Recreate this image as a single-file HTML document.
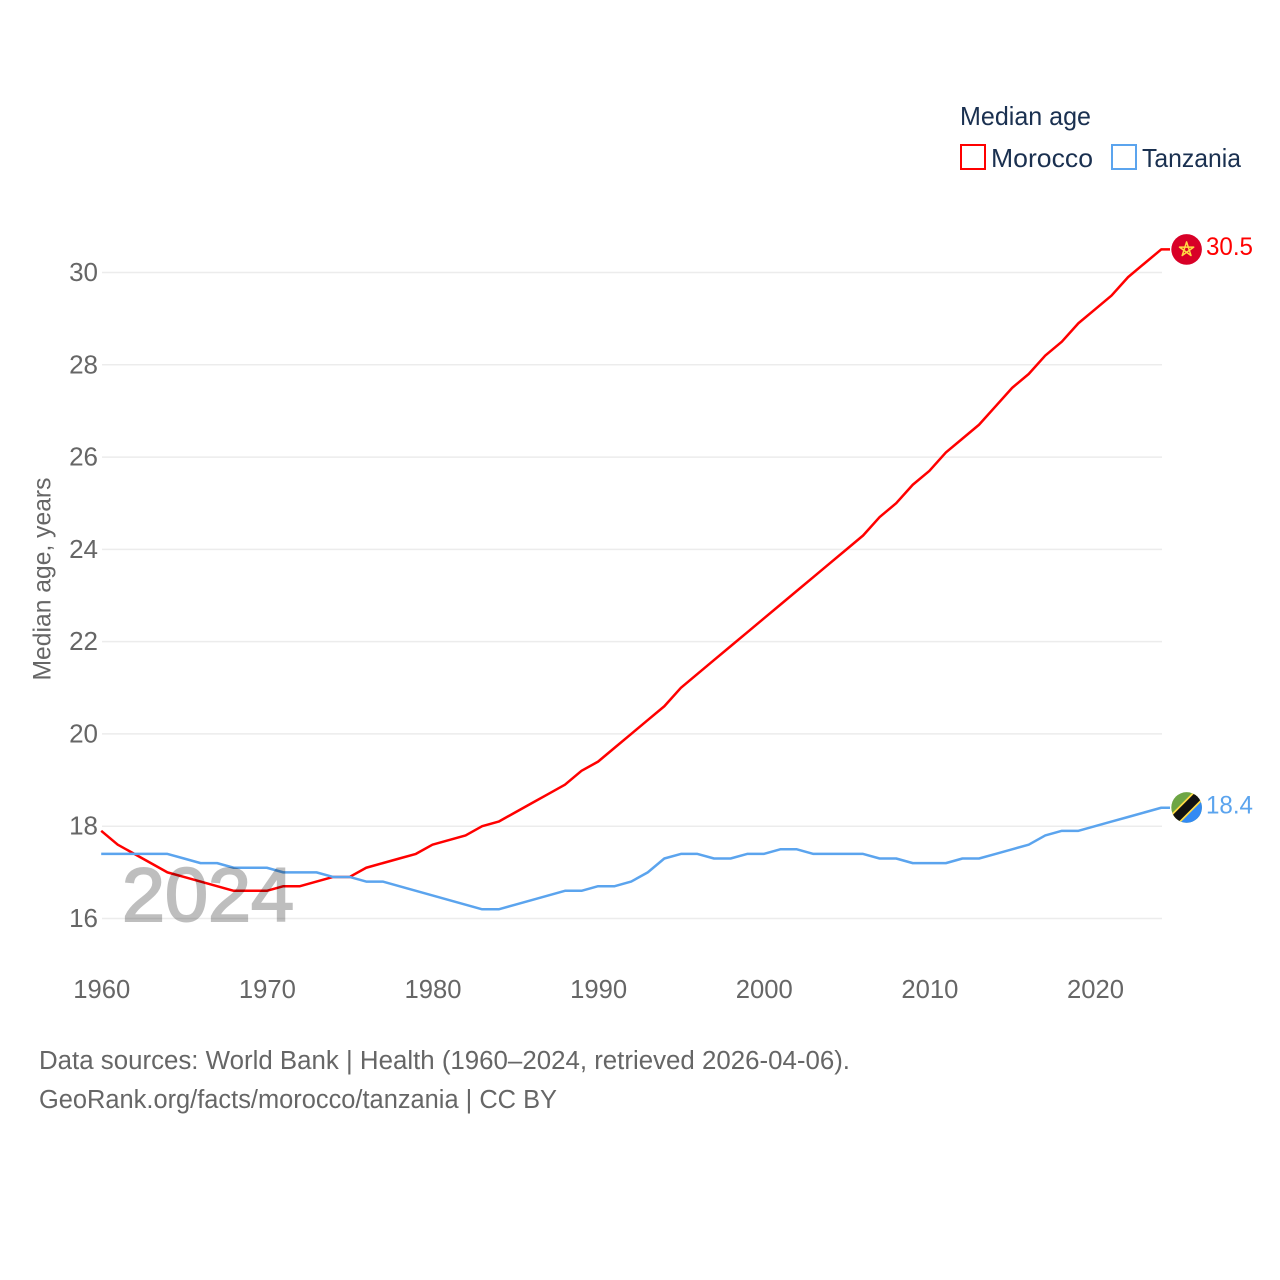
<!DOCTYPE html>
<html lang="en">
<head>
<meta charset="utf-8">
<title>Median age: Morocco and Tanzania</title>
<style>
html,body{margin:0;padding:0;background:#fff;width:1280px;height:1280px;overflow:hidden}
svg{display:block}
text{font-family:"Liberation Sans",Arial,sans-serif}
</style>
</head>
<body>
<svg id="chart" xmlns="http://www.w3.org/2000/svg" width="1280" height="1280" viewBox="0 0 1280 1280">
  <defs>
    <clipPath id="flag-clip-ma"><circle cx="0" cy="0" r="15.3"/></clipPath>
    <clipPath id="flag-clip-tz"><circle cx="0" cy="0" r="15.3"/></clipPath>
  </defs>
  <rect x="0" y="0" width="1280" height="1280" fill="#ffffff"/>
  <g id="grid"></g>
  <g id="y-ticks"></g>
  <g id="x-ticks"></g>
  <text transform="translate(50.5,579) rotate(-90)" text-anchor="middle" font-size="25" fill="#666666" textLength="203" lengthAdjust="spacingAndGlyphs">Median age, years</text>
  <g id="series"></g>
  <text x="122" y="921" font-size="76" fill="#000000" stroke="#000000" stroke-width="2" opacity="0.25" textLength="172" lengthAdjust="spacingAndGlyphs">2024</text>
  <g id="end-markers"></g>
  <g>
    <text x="960" y="125" font-size="26" fill="#1a3050" textLength="131" lengthAdjust="spacingAndGlyphs">Median age</text>
    <g>
      <rect x="961" y="145" width="24" height="24" fill="none" stroke="#ff0000" stroke-width="2"/>
      <text x="991" y="167" font-size="26" fill="#1a3050" textLength="102" lengthAdjust="spacingAndGlyphs">Morocco</text>
    </g>
    <g>
      <rect x="1112" y="145" width="24" height="24" fill="none" stroke="#5ba4ee" stroke-width="2"/>
      <text x="1142" y="167" font-size="26" fill="#1a3050" textLength="99" lengthAdjust="spacingAndGlyphs">Tanzania</text>
    </g>
  </g>
  <text x="39" y="1069" font-size="25.5" fill="#666666" textLength="811" lengthAdjust="spacingAndGlyphs">Data sources: World Bank | Health (1960–2024, retrieved 2026-04-06).</text>
  <text x="39" y="1108" font-size="25.5" fill="#666666" textLength="518" lengthAdjust="spacingAndGlyphs">GeoRank.org/facts/morocco/tanzania | CC BY</text>
</svg>
<script>
const years = [1960,1961,1962,1963,1964,1965,1966,1967,1968,1969,1970,1971,1972,1973,1974,1975,1976,1977,1978,1979,1980,1981,1982,1983,1984,1985,1986,1987,1988,1989,1990,1991,1992,1993,1994,1995,1996,1997,1998,1999,2000,2001,2002,2003,2004,2005,2006,2007,2008,2009,2010,2011,2012,2013,2014,2015,2016,2017,2018,2019,2020,2021,2022,2023,2024];
const morocco = [17.9,17.6,17.4,17.2,17.0,16.9,16.8,16.7,16.6,16.6,16.6,16.7,16.7,16.8,16.9,16.9,17.1,17.2,17.3,17.4,17.6,17.7,17.8,18.0,18.1,18.3,18.5,18.7,18.9,19.2,19.4,19.7,20.0,20.3,20.6,21.0,21.3,21.6,21.9,22.2,22.5,22.8,23.1,23.4,23.7,24.0,24.3,24.7,25.0,25.4,25.7,26.1,26.4,26.7,27.1,27.5,27.8,28.2,28.5,28.9,29.2,29.5,29.9,30.2,30.5];
const tanzania = [17.4,17.4,17.4,17.4,17.4,17.3,17.2,17.2,17.1,17.1,17.1,17.0,17.0,17.0,16.9,16.9,16.8,16.8,16.7,16.6,16.5,16.4,16.3,16.2,16.2,16.3,16.4,16.5,16.6,16.6,16.7,16.7,16.8,17.0,17.3,17.4,17.4,17.3,17.3,17.4,17.4,17.5,17.5,17.4,17.4,17.4,17.4,17.3,17.3,17.2,17.2,17.2,17.3,17.3,17.4,17.5,17.6,17.8,17.9,17.9,18.0,18.1,18.2,18.3,18.4];
const yTickValues = [16,18,20,22,24,26,28,30];
const xTickValues = [1960,1970,1980,1990,2000,2010,2020];

const SVG_NS = 'http://www.w3.org/2000/svg';
const xScale = year => 101.2 + (year - 1960) * (1060 / 64);
const yScale = value => 918.5 - (value - 16) * (646 / 14);
const gridGroup = document.getElementById('grid');
const yTickGroup = document.getElementById('y-ticks');
const xTickGroup = document.getElementById('x-ticks');
const seriesGroup = document.getElementById('series');
const markerGroup = document.getElementById('end-markers');

yTickValues.forEach(value => {
  const line = document.createElementNS(SVG_NS, 'line');
  
  
  line.setAttribute('x1', 102);
  line.setAttribute('x2', 1162);
  line.setAttribute('y1', yScale(value));
  line.setAttribute('y2', yScale(value));
  line.setAttribute('stroke', '#ececec');
  line.setAttribute('stroke-width', 1.5);
  gridGroup.appendChild(line);

  const label = document.createElementNS(SVG_NS, 'text');
  
  
  label.setAttribute('x', 98);
  label.setAttribute('y', yScale(value) + 8.5);
  label.setAttribute('text-anchor', 'end');
  label.setAttribute('font-size', 26);
  label.setAttribute('fill', '#666666');
  label.textContent = String(value);
  yTickGroup.appendChild(label);
});

xTickValues.forEach(year => {
  const label = document.createElementNS(SVG_NS, 'text');
  
  
  label.setAttribute('x', xScale(year) + 0.6);
  label.setAttribute('y', 998);
  label.setAttribute('text-anchor', 'middle');
  label.setAttribute('font-size', 26);
  label.setAttribute('fill', '#666666');
  label.setAttribute('textLength', 57);
  label.setAttribute('lengthAdjust', 'spacingAndGlyphs');
  label.textContent = String(year);
  xTickGroup.appendChild(label);
});

function seriesPath(values) {
  const points = values.map((value, i) => xScale(years[i]).toFixed(2) + ',' + yScale(value).toFixed(2));
  const lastY = yScale(values[values.length - 1]).toFixed(2);
  points.push('1170,' + lastY);
  return 'M' + points.join('L');
}

const moroccoLine = document.createElementNS(SVG_NS, 'path');


moroccoLine.setAttribute('d', seriesPath(morocco));
moroccoLine.setAttribute('fill', 'none');
moroccoLine.setAttribute('stroke', '#ff0000');
moroccoLine.setAttribute('stroke-width', 2.5);
moroccoLine.setAttribute('stroke-linejoin', 'round');
seriesGroup.appendChild(moroccoLine);

const tanzaniaLine = document.createElementNS(SVG_NS, 'path');


tanzaniaLine.setAttribute('d', seriesPath(tanzania));
tanzaniaLine.setAttribute('fill', 'none');
tanzaniaLine.setAttribute('stroke', '#5ba4ee');
tanzaniaLine.setAttribute('stroke-width', 2.5);
tanzaniaLine.setAttribute('stroke-linejoin', 'round');
seriesGroup.appendChild(tanzaniaLine);

const moroccoEnd = morocco[morocco.length - 1];
const tanzaniaEnd = tanzania[tanzania.length - 1];

const moroccoFlag = document.createElementNS(SVG_NS, 'g');


moroccoFlag.setAttribute('transform', 'translate(1186.6,' + yScale(moroccoEnd).toFixed(2) + ')');
moroccoFlag.setAttribute('clip-path', 'url(#flag-clip-ma)');
moroccoFlag.innerHTML = '<rect x="-16" y="-16" width="32" height="32" fill="#d80027"/>' +
  '<polygon points="0,-7.5 4.4,6.1 -7.1,-2.3 7.1,-2.3 -4.4,6.1" fill="none" stroke="#ffda44" stroke-width="1.5" stroke-linejoin="round"/>';
markerGroup.appendChild(moroccoFlag);

const tanzaniaFlag = document.createElementNS(SVG_NS, 'g');


tanzaniaFlag.setAttribute('transform', 'translate(1186.6,' + (yScale(tanzaniaEnd) - 0.3).toFixed(2) + ')');
tanzaniaFlag.setAttribute('clip-path', 'url(#flag-clip-tz)');
tanzaniaFlag.innerHTML = '<rect x="-16" y="-16" width="32" height="32" fill="#6da544"/>' +
  '<polygon points="16,-16 16,16 -16,16" fill="#338af3"/>' +
  '<line x1="-17" y1="17" x2="17" y2="-17" stroke="#ffda44" stroke-width="12.5"/>' +
  '<line x1="-17" y1="17" x2="17" y2="-17" stroke="#111111" stroke-width="9"/>';
markerGroup.appendChild(tanzaniaFlag);

const moroccoValue = document.createElementNS(SVG_NS, 'text');


moroccoValue.setAttribute('x', 1206);
moroccoValue.setAttribute('y', yScale(moroccoEnd) + 5.6);
moroccoValue.setAttribute('font-size', 25);
moroccoValue.setAttribute('fill', '#ff0000');
moroccoValue.setAttribute('textLength', 47);
moroccoValue.setAttribute('lengthAdjust', 'spacingAndGlyphs');
moroccoValue.textContent = moroccoEnd.toFixed(1);
markerGroup.appendChild(moroccoValue);

const tanzaniaValue = document.createElementNS(SVG_NS, 'text');


tanzaniaValue.setAttribute('x', 1206);
tanzaniaValue.setAttribute('y', yScale(tanzaniaEnd) + 5.6);
tanzaniaValue.setAttribute('font-size', 25);
tanzaniaValue.setAttribute('fill', '#5ba4ee');
tanzaniaValue.setAttribute('textLength', 47);
tanzaniaValue.setAttribute('lengthAdjust', 'spacingAndGlyphs');
tanzaniaValue.textContent = tanzaniaEnd.toFixed(1);
markerGroup.appendChild(tanzaniaValue);
</script>
</body>
</html>
